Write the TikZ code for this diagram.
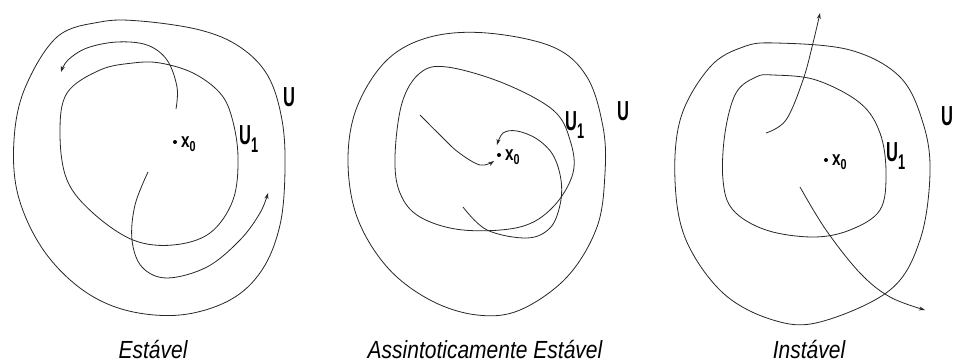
\documentclass[tikz,border=0pt]{standalone}
\usepackage{fontspec}
\setmainfont{Liberation Sans}
\usetikzlibrary{arrows.meta}
\newcommand{\Uone}{\bfseries U\raisebox{-6pt}{\fontsize{17}{17}\selectfont\bfseries 1}}
\newcommand{\xzero}{{\fontsize{17}{17}\selectfont\bfseries x}\raisebox{-3pt}{\fontsize{12}{12}\selectfont\bfseries 0}}
\begin{document}
\begin{tikzpicture}[x=1pt,y=-1pt,
  curve/.style={line width=0.8pt,black!85},
  traj/.style={line width=0.8pt,black!85,-{Stealth[length=6pt,width=4pt]}},
  lab/.style={font=\fontsize{22}{22}\selectfont\bfseries,xscale=0.75,yscale=1.25,inner sep=0pt},
  xlab/.style={font=\bfseries,xscale=0.9,yscale=1.2,inner sep=0pt},
  captext/.style={font=\fontsize{21}{22}\selectfont\itshape,inner sep=0pt,yscale=1.18},
  xdot/.style={circle,fill=black,inner sep=0pt,minimum size=4pt}]
\useasboundingbox (0,0) rectangle (953,362);
% ---------- Panel 1: Estavel
\draw[curve] plot[smooth cycle,tension=0.6] coordinates {(100,22) (140,21) (200,30) (240,47) (268,76) (282,120) (285,170) (280,225) (262,270) (230,300) (180,315) (125,310) (80,288) (42,248) (18,195) (14,140) (25,88) (57,37)};
\draw[curve] plot[smooth cycle,tension=0.6] coordinates {(133,63) (160,63) (193,73) (220,93) (232,118) (238,157) (233,200) (210,233) (173,245) (133,240) (93,213) (67,180) (60,133) (67,93) (100,70)};
\draw[traj] plot[smooth,tension=0.6] coordinates {(176,109) (177,87) (167,60) (147,45) (117,42) (87,48) (68,60) (61,72)};
\draw[traj] plot[smooth,tension=0.6] coordinates {(148,172) (135,205) (132,240) (142,267) (167,278) (207,267) (240,240) (260,213) (268,193)};
\node[xdot] (p1) at (175,142) {};
\node[xlab,anchor=west] (x1) at (181,144) {\xzero};
\node[lab,anchor=west] (u11) at (239,139) {\Uone};
\node[lab,anchor=west] (u1) at (283,97) {U};
\node[captext] (c1) at (153,349) {Estável};
% ---------- Panel 2: Assintoticamente Estavel
\draw[curve] plot[smooth cycle,tension=0.6] coordinates {(487,33) (553,47) (587,77) (603,127) (605,173) (597,227) (567,277) (520,310) (477,315) (430,300) (387,267) (357,217) (348,160) (357,107) (387,60) (430,37)};
\draw[curve] plot[smooth cycle,tension=0.6] coordinates {(447,67) (503,83) (553,110) (570,140) (573,173) (553,207) (520,227) (463,230) (420,217) (400,193) (395,157) (402,103) (420,73)};
\draw[traj] plot[smooth,tension=0.6] coordinates {(420,115) (440,135) (458,152) (480,165) (494,161)};
\draw[traj] plot[smooth,tension=0.6] coordinates {(463,207) (487,230) (527,238) (550,228) (560,205) (561,180) (553,155) (537,139) (517,131) (503,133) (497,145)};
\node[xdot] (p2) at (499,155) {};
\node[xlab,anchor=west] (x2) at (505,157) {\xzero};
\node[lab,anchor=west] (u12) at (565,125) {\Uone};
\node[lab,anchor=west] (u2) at (617,111) {U};
\node[captext] (c2) at (485,349) {Assintoticamente Estável};
% ---------- Panel 3: Instavel
\draw[curve] plot[smooth cycle,tension=0.6] coordinates {(776,43) (850,50) (900,77) (923,123) (930,173) (920,240) (890,290) (820,322) (773,320) (723,293) (686,240) (675,180) (681,117) (710,67) (743,47)};
\draw[curve] plot[smooth cycle,tension=0.6] coordinates {(773,75) (816,80) (860,103) (880,133) (886,173) (880,210) (850,230) (813,237) (766,230) (733,210) (723,180) (725,133) (736,93) (756,77)};
\draw[traj] plot[smooth,tension=0.6] coordinates {(766,133) (786,120) (803,80) (813,43) (820,13)};
\draw[traj] plot[smooth,tension=0.6] coordinates {(800,187) (826,230) (860,273) (890,297) (925,310)};
\node[xdot] (p3) at (826,160) {};
\node[xlab,anchor=west] (x3) at (832,162) {\xzero};
\node[lab,anchor=west] (u13) at (886,156) {\Uone};
\node[lab,anchor=west] (u3) at (941,116) {U};
\node[captext] (c3) at (809,349) {Instável};
\end{tikzpicture}
\end{document}
